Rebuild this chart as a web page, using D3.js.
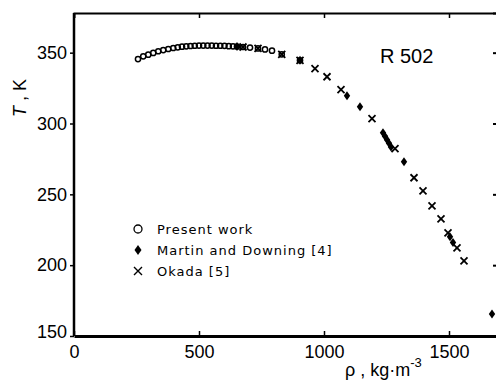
<!DOCTYPE html>
<html>
<head>
<meta charset="utf-8">
<script src="https://cdn.jsdelivr.net/npm/d3@7"></script>
<style>
  body { margin: 0; background: #fff; }
  svg { display: block; }
  text { fill: #000; }
</style>
</head>
<body>
<svg id="chart"></svg>
<script>
const width = 496;
const height = 383;

// Present work (circles): density rho, temperature T
const presentRho = [256, 277, 297, 317, 337, 357, 377, 397, 415, 432, 449, 466, 483, 500, 517, 534, 551, 568, 585, 602, 619, 636, 652, 676, 704, 736, 764, 792, 831, 904];
const presentT   = [345.5, 347.4, 348.6, 349.8, 351.0, 351.8, 352.6, 353.3, 353.8, 354.2, 354.5, 354.7, 354.9, 355.0, 355.0, 355.0, 355.0, 354.9, 354.9, 354.8, 354.6, 354.5, 354.3, 354.0, 353.6, 353.0, 352.3, 351.4, 348.8, 344.6];

// Martin and Downing [4] (filled diamonds)
const martinRho = [652, 904, 1092, 1144, 1236, 1244, 1252, 1260, 1268, 1320, 1504, 1516, 1672];
const martinT   = [354.3, 344.6, 319.6, 311.8, 293.5, 291.0, 288.5, 286.0, 283.5, 273.0, 220.0, 216.0, 165.5];

// Okada [5] (crosses)
const okadaRho = [676, 736, 831, 904, 964, 1012, 1068, 1192, 1284, 1360, 1396, 1432, 1468, 1496, 1532, 1560];
const okadaT   = [354.0, 353.0, 348.8, 344.6, 338.7, 333.0, 323.9, 303.4, 282.2, 261.7, 252.5, 241.9, 232.7, 222.8, 212.2, 203.0];

const xTicks = [0, 500, 1000, 1500];
const yTicks = [150, 200, 250, 300, 350];
const legendLabels = ["Present work", "Martin and Downing [4]", "Okada [5]"];

const x = d3.scaleLinear().domain([0, 1700]).range([74, 499]);
const y = d3.scaleLinear().domain([150, 378]).range([336, 13]);

const svg = d3.select("#chart")
    .attr("width", width)
    .attr("height", height);

const numFont = "'Liberation Sans', Arial, sans-serif";
const legFont = "'DejaVu Sans', sans-serif";

// frame: top and right with inward ticks
svg.append("g")
    .attr("transform", `translate(0,${y(378)})`)
    .call(d3.axisTop(x).tickValues(xTicks.slice(1)).tickSize(-5).tickFormat(""))
    .call(g => g.select(".domain").attr("stroke-width", 2))
    .call(g => g.selectAll(".tick line").attr("stroke-width", 1.5));

svg.append("g")
    .attr("transform", `translate(${x(1700)},0)`)
    .call(d3.axisRight(y).tickValues(yTicks.slice(1)).tickSize(-6).tickFormat(""))
    .call(g => g.select(".domain").attr("stroke-width", 2))
    .call(g => g.selectAll(".tick line").attr("stroke-width", 2));

// bottom axis, ticks point inward
const xAxis = svg.append("g")
    .attr("transform", `translate(0,${y(150)})`)
    .call(d3.axisBottom(x).tickValues(xTicks).tickSize(-5).tickSizeOuter(0).tickPadding(9).tickFormat(d3.format("d")));
xAxis.select(".domain").attr("stroke-width", 3);
xAxis.selectAll(".tick line").attr("stroke-width", 1.5);
xAxis.selectAll(".tick text")
    .style("font-family", numFont).style("font-size", "18px");

// left axis, ticks point outward
const yAxis = svg.append("g")
    .attr("transform", `translate(${x(0)},0)`)
    .call(d3.axisLeft(y).tickValues(yTicks).tickSize(4).tickSizeOuter(0).tickPadding(3));
yAxis.select(".domain").attr("stroke-width", 2.5);
yAxis.selectAll(".tick line").attr("stroke-width", 1.5);
yAxis.selectAll(".tick text")
    .style("font-family", numFont).style("font-size", "18px");
yAxis.selectAll(".tick").filter(d => d === 150).select("text").attr("dy", "0.1em");
yAxis.select(".domain").attr("d", `M0,${y(150)}V${y(378)}`);

// axis titles
const yTitle = svg.append("text")
    .attr("transform", `translate(26,98) rotate(-90)`)
    .attr("text-anchor", "middle")
    .style("font-family", numFont).style("font-size", "18px");
yTitle.append("tspan").style("font-style", "italic").text("T");
yTitle.append("tspan").text(" , K");

const xTitle = svg.append("text")
    .attr("x", 345).attr("y", 376)
    .style("font-family", numFont).style("font-size", "18px");
xTitle.append("tspan").text("ρ  ,  kg·m");
xTitle.append("tspan").attr("dy", -9).style("font-size", "13px").text("-3");

svg.append("text")
    .attr("x", 380).attr("y", 63)
    .style("font-family", numFont).style("font-size", "20px")
    .text("R 502");

// marks
const plot = svg.append("g");

plot.selectAll("circle.present")
    .data(presentRho.map((r, i) => [r, presentT[i]]))
    .join("circle")
    .attr("class", "present")
    .attr("cx", d => x(d[0]))
    .attr("cy", d => y(d[1]))
    .attr("r", 2.6)
    .attr("fill", "none")
    .attr("stroke", "#000")
    .attr("stroke-width", 1.5);

const diamond = "M0,-4.5L3.2,0L0,4.5L-3.2,0Z";
plot.selectAll("path.martin")
    .data(martinRho.map((r, i) => [r, martinT[i]]))
    .join("path")
    .attr("class", "martin")
    .attr("transform", d => `translate(${x(d[0])},${y(d[1])})`)
    .attr("d", diamond)
    .attr("fill", "#000");

const cross = "M-3.5,-3.5L3.5,3.5M-3.5,3.5L3.5,-3.5";
plot.selectAll("path.okada")
    .data(okadaRho.map((r, i) => [r, okadaT[i]]))
    .join("path")
    .attr("class", "okada")
    .attr("transform", d => `translate(${x(d[0])},${y(d[1])})`)
    .attr("d", cross)
    .attr("stroke", "#000")
    .attr("stroke-width", 1.8)
    .attr("fill", "none");

// legend
const legend = svg.append("g").attr("transform", "translate(138,229)");
const rows = legend.selectAll("g")
    .data(legendLabels)
    .join("g")
    .attr("transform", (d, i) => `translate(0,${i * 21})`);

rows.filter((d, i) => i === 0).append("circle")
    .attr("r", 4).attr("fill", "none").attr("stroke", "#000").attr("stroke-width", 1.3);
rows.filter((d, i) => i === 1).append("path")
    .attr("d", "M0,-5L3.5,0L0,5L-3.5,0Z").attr("fill", "#000");
rows.filter((d, i) => i === 2).append("path")
    .attr("d", "M-4,-4L4,4M-4,4L4,-4").attr("stroke", "#000").attr("stroke-width", 1.4);

rows.append("text")
    .attr("x", 19)
    .attr("y", 5)
    .style("font-family", legFont)
    .style("font-size", "13px")
    .style("letter-spacing", "1px")
    .text(d => d);
</script>
</body>
</html>
